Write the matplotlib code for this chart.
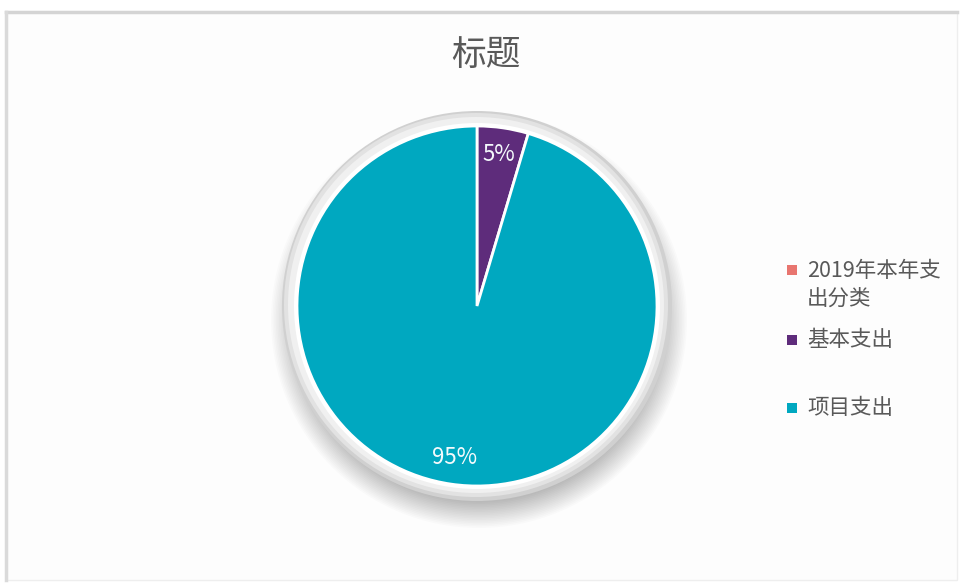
# 饼图：2019年本年支出分类

import matplotlib
matplotlib.use("Agg")
import matplotlib.pyplot as plt
from matplotlib.patches import Circle, Rectangle

plt.rcParams['font.family'] = ['Noto Sans CJK SC', 'DejaVu Sans']

# 数据
title = "标题"
series_name = "2019年本年支出分类"
categories = ["基本支出", "项目支出"]
values = [4.6, 95.4]
colors = ["#5E2C7B", "#00A8C0"]
series_color = "#E8756F"
legend_labels = ["2019年本年支\n出分类", "基本支出", "项目支出"]
legend_colors = [series_color] + colors

W, H = 962, 583
fig = plt.figure(figsize=(W / 100, H / 100), dpi=100)
fig.patch.set_facecolor("white")
ax = fig.add_axes([0, 0, 1, 1])

# 图表区边框（上、左较明显）
ax.add_patch(Rectangle((6, 3), 951, 568, facecolor="#FDFDFD",
                       edgecolor="#EEEEEE", linewidth=1, zorder=0))
ax.plot([6, 957], [H - 12, H - 12], color="#D4D4D4", linewidth=2.5, zorder=0.5)
ax.plot([6, 6], [3, H - 12], color="#DADADA", linewidth=2.5, zorder=0.5)

cx, cy, r = 477, H - 306, 180

# 阴影（多层半透明圆）
for i in range(26):
    ax.add_patch(Circle((cx + 2, cy - 14), 208 - i * 1.6, facecolor="black",
                        edgecolor="none", alpha=0.016, zorder=1))

# 立体边框
ax.add_patch(Circle((cx, cy), 195, facecolor="#D0D0D0", edgecolor="none", zorder=2))
ax.add_patch(Circle((cx - 1, cy + 1), 192, facecolor="#E2E2E2", edgecolor="none", zorder=2))
ax.add_patch(Circle((cx - 1, cy + 1), 188, facecolor="#F0F0F0", edgecolor="none", zorder=2))
ax.add_patch(Circle((cx, cy), 183, facecolor="white", edgecolor="none", zorder=2))

wedges, texts, autotexts = ax.pie(
    values, colors=colors, startangle=90, counterclock=False,
    center=(cx, cy), radius=r,
    autopct=lambda p: f"{p:.0f}%", pctdistance=0.85,
    wedgeprops=dict(edgecolor="white", linewidth=2),
    textprops=dict(color="#F4FAFC", fontsize=16), frame=False,
)
for w in wedges:
    w.set_zorder(3)
for t in autotexts:
    t.set_zorder(4)

ax.set_xlim(0, W)
ax.set_ylim(0, H)
ax.set_aspect("equal")
ax.axis("off")

# 标题
ax.text(486, H - 55, title, ha="center", va="center", fontsize=25,
        color="#595959", zorder=5)

# 图例
legend_y = [285, 340, 408]
for lab, col, y in zip(legend_labels, legend_colors, legend_y):
    first_line_y = y - 15 if "\n" in lab else y
    ax.add_patch(Rectangle((787, H - first_line_y - 5), 10, 10,
                           facecolor=col, edgecolor="none", zorder=5))
    ax.text(807, H - y, lab, ha="left", va="center", fontsize=15.5,
            color="#595959", linespacing=1.3, zorder=5)

fig.savefig("out.png", dpi=100, facecolor=fig.get_facecolor())
